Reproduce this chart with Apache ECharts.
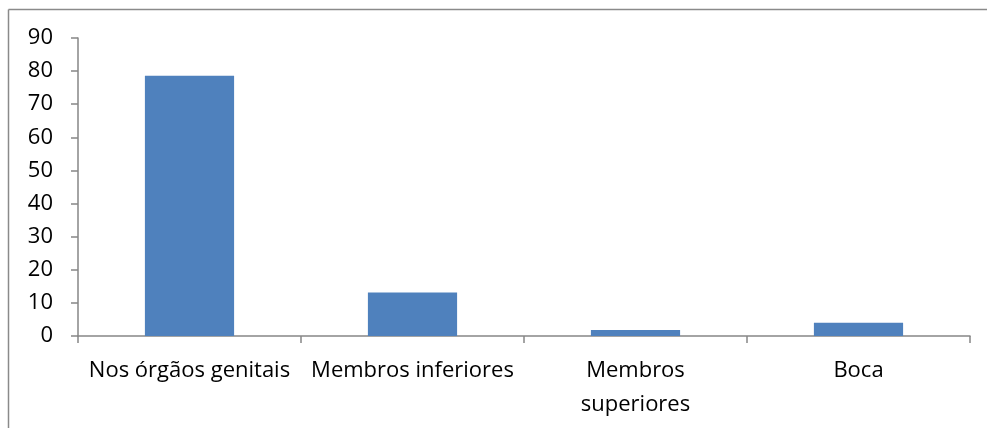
<!DOCTYPE html>
<html>
<head>
<meta charset="utf-8">
<script src="https://cdn.jsdelivr.net/npm/echarts@6/dist/echarts.min.js"></script>
<style>html,body{margin:0;padding:0;background:#fff;overflow:hidden}#c{width:987px;height:428px}</style>
</head>
<body>
<div id="c"></div>
<script>
const categories = ['Nos órgãos genitais', 'Membros inferiores', 'Membros superiores', 'Boca'];
const values = [78.6, 13.1, 1.8, 4.0];
const yTicks = { min: 0, max: 90, interval: 10 };
const wrapLabels = { 'Membros superiores': 'Membros\nsuperiores' };

const chart = echarts.init(document.getElementById('c'), null, { renderer: 'canvas' });
chart.setOption({
  animation: false,
  backgroundColor: '#fff',
  textStyle: { fontFamily: 'Open Sans' },
  graphic: [
    { type: 'line', silent: true, shape: { x1: 8.5, y1: 9.5, x2: 8.5, y2: 428 },
      style: { stroke: '#8a8a8a', lineWidth: 1.5 } },
    { type: 'line', silent: true, shape: { x1: 8.5, y1: 9.5, x2: 987, y2: 9.5 },
      style: { stroke: '#8a8a8a', lineWidth: 1.5 } }
  ],
  grid: { left: 78, right: 17, top: 38, bottom: 92, containLabel: false },
  xAxis: {
    type: 'category',
    data: categories,
    axisLine: { lineStyle: { color: '#868686', width: 1.5 } },
    axisTick: { show: true, length: 7, lineStyle: { color: '#868686', width: 1.5 } },
    axisLabel: {
      color: '#000', fontSize: 22, margin: 18, lineHeight: 34, interval: 0,
      formatter: v => wrapLabels[v] || v
    }
  },
  yAxis: {
    type: 'value',
    min: yTicks.min, max: yTicks.max, interval: yTicks.interval,
    splitLine: { show: false },
    axisLine: { show: true, lineStyle: { color: '#868686', width: 1.5 } },
    axisTick: { show: true, length: 7, lineStyle: { color: '#868686', width: 1.5 } },
    axisLabel: { color: '#000', fontSize: 22, margin: 25 }
  },
  series: [{
    type: 'bar',
    data: values,
    barWidth: '40%',
    itemStyle: { color: '#4F81BD' }
  }]
});
</script>
</body>
</html>
